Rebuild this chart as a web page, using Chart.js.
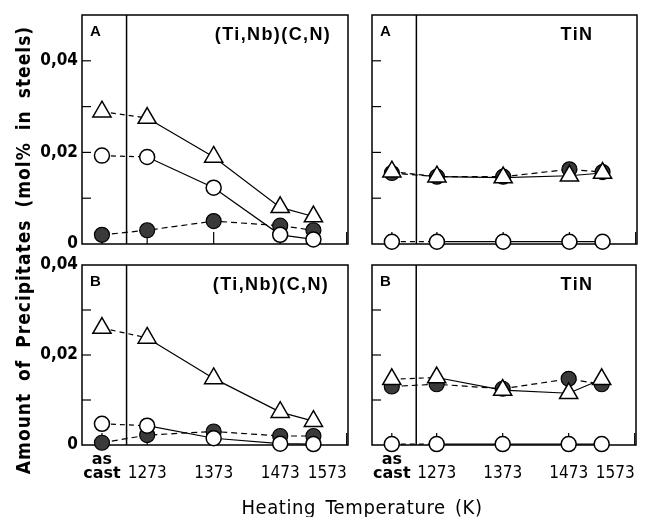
<!DOCTYPE html>
<html>
<head>
<meta charset="utf-8">
<script src="https://cdn.jsdelivr.net/npm/chart.js@4.4.1/dist/chart.umd.min.js"></script>
<style>
  body { margin: 0; background: #fff; }
  #fig { position: relative; width: 647px; height: 517px; overflow: hidden; }
  #fig canvas { position: absolute; left: 0; top: 0; }
  .xtitle {
    position: absolute; left: 162px; top: 496px; width: 400px; text-align: center;
    font: 20px 'Liberation Sans Narrow', 'DejaVu Sans Condensed', sans-serif;
    letter-spacing: 0.6px; word-spacing: 3px; line-height: 22px; white-space: nowrap;
  }
  .ytitle {
    position: absolute; left: -227px; top: 238px; width: 500px; height: 24px; text-align: center;
    font: bold 19px 'Liberation Sans Narrow', 'DejaVu Sans Condensed', sans-serif;
    letter-spacing: 1px; word-spacing: 5px; line-height: 24px; white-space: nowrap;
    transform: rotate(-90deg);
  }
</style>
</head>
<body>
<div id="fig">
  <canvas id="tl" width="700" height="560"></canvas>
  <canvas id="tr" width="700" height="560"></canvas>
  <canvas id="bl" width="700" height="560"></canvas>
  <canvas id="br" width="700" height="560"></canvas>
  <div class="xtitle">Heating Temperature (K)</div>
  <div class="ytitle">Amount of Precipitates (mol% in steels)</div>
</div>
<script>
// "as cast" has no temperature, it sits left of the divider on the same axis
const AS_CAST_X = 1205;
const DIVIDER_X = 1242;
const X_MIN = 1175;
const X_MAX = 1575;

const CONDITIONS = ['as cast', 1273, 1373, 1473, 1523];
// first tick is an unlabelled one at the frame edge so 'inner' alignment only affects 1573
const X_TICKS = [X_MIN, AS_CAST_X, 1273, 1373, 1473, 1573];
const X_TICK_LABELS = ['', ['as', 'cast'], ['', '1273'], ['', '1373'], ['', '1473'], ['', '1573']];
const Y_TICKS_TOP = [0, 0.01, 0.02, 0.03, 0.04, 0.05];
const Y_TICKS_BOTTOM = [0, 0.01, 0.02, 0.03, 0.04];
const Y_TICK_LABELS = ['0', '', '0,02', '', '0,04', ''];

// steel A, (Ti,Nb)(C,N)
const A_TINB_TRIANGLE = [0.0289, 0.0275, 0.019, 0.008, 0.006];
const A_TINB_OPEN = [0.0193, 0.019, 0.0123, 0.002, 0.001];
const A_TINB_FILLED = [0.002, 0.003, 0.005, 0.004, 0.003];

// steel A, TiN
const A_TIN_TRIANGLE = [0.0158, 0.0147, 0.0145, 0.0149, 0.0155];
const A_TIN_OPEN = [0.0005, 0.0005, 0.0005, 0.0005, 0.0005];
const A_TIN_FILLED = [0.0155, 0.0147, 0.0147, 0.0163, 0.0157];

// steel B, (Ti,Nb)(C,N)
const B_TINB_TRIANGLE = [0.026, 0.0238, 0.0148, 0.0073, 0.0053];
const B_TINB_OPEN = [0.0047, 0.0043, 0.0015, 0.0003, 0.0002];
const B_TINB_FILLED = [0.0005, 0.0022, 0.003, 0.002, 0.002];

// steel B, TiN
const B_TIN_TRIANGLE = [0.0146, 0.015, 0.0122, 0.0115, 0.0146];
const B_TIN_OPEN = [0.0002, 0.0002, 0.0002, 0.0002, 0.0002];
const B_TIN_FILLED = [0.013, 0.0135, 0.0125, 0.0147, 0.0135];

const NARROW = "'Liberation Sans Narrow', 'DejaVu Sans Condensed', sans-serif";
const CANVAS_W = 700;
const CANVAS_H = 560;
const Y_AXIS_W = 60;
const X_AXIS_H = 50;

function toPoints(values) {
  return values.map((v, i) => ({
    x: CONDITIONS[i] === 'as cast' ? AS_CAST_X : CONDITIONS[i],
    y: v
  }));
}

// the first segment crosses the as-cast divider and is dashed
const firstDash = (ctx) => (ctx.p0DataIndex === 0 ? [5, 4] : undefined);

function line(ctx, x1, y1, x2, y2) {
  ctx.beginPath();
  ctx.moveTo(x1, y1);
  ctx.lineTo(x2, y2);
  ctx.stroke();
}

const framePlugin = {
  id: 'frame',
  beforeDatasetsDraw(chart) {
    const { ctx, chartArea: a, scales: { x, y } } = chart;
    ctx.save();
    ctx.strokeStyle = '#000';
    ctx.lineWidth = 1.5;
    ctx.strokeRect(a.left, a.top, a.right - a.left, a.bottom - a.top);
    const dx = x.getPixelForValue(DIVIDER_X);
    line(ctx, dx, a.top, dx, a.bottom);
    ctx.lineWidth = 1.2;
    y.ticks.forEach((t) => {
      const py = y.getPixelForValue(t.value);
      if (py > a.top + 1 && py < a.bottom - 1) line(ctx, a.left, py, a.left + 9, py);
    });
    x.ticks.forEach((t) => {
      const px = x.getPixelForValue(t.value);
      if (px > a.left + 1 && px < a.right - 1) line(ctx, px, a.bottom, px, a.bottom - 12);
    });
    ctx.restore();
  },
  afterDraw(chart, args, opts) {
    const { ctx, chartArea: a } = chart;
    ctx.save();
    ctx.fillStyle = '#000';
    ctx.textBaseline = 'middle';
    ctx.font = "bold 15px 'Liberation Sans', sans-serif";
    ctx.textAlign = 'left';
    ctx.fillText(opts.letter, a.left + 8, a.top + 17);
    ctx.font = "bold 18px 'Liberation Sans', sans-serif";
    ctx.letterSpacing = '1.4px';
    ctx.textAlign = 'center';
    ctx.fillText(opts.title, a.right - opts.titleDx, a.top + 20);
    ctx.restore();
  }
};

function panel(id, area, yTicks, showX, showY, letter, title, titleDx, series) {
  const [tri, open, filled] = series;
  return new Chart(document.getElementById(id), {
    type: 'line',
    data: {
      datasets: [
        {
          data: toPoints(tri),
          borderColor: '#000',
          borderWidth: 1.2,
          pointStyle: 'triangle',
          pointRadius: 10.5,
          pointBackgroundColor: '#fff',
          pointBorderColor: '#000',
          pointBorderWidth: 1.5,
          segment: { borderDash: firstDash },
          clip: false
        },
        {
          data: toPoints(open),
          borderColor: '#000',
          borderWidth: 1.2,
          pointStyle: 'circle',
          pointRadius: 7.5,
          pointBackgroundColor: '#fff',
          pointBorderColor: '#000',
          pointBorderWidth: 1.5,
          segment: { borderDash: firstDash },
          clip: false
        },
        {
          data: toPoints(filled),
          borderColor: '#000',
          borderWidth: 1.2,
          borderDash: [6, 4],
          pointStyle: 'circle',
          pointRadius: 7.5,
          pointBackgroundColor: '#3a3a3a',
          pointBorderColor: '#000',
          pointBorderWidth: 1.2,
          clip: false
        }
      ]
    },
    options: {
      responsive: false,
      animation: false,
      events: [],
      layout: {
        autoPadding: false,
        padding: {
          left: area[0] - Y_AXIS_W,
          top: area[1],
          right: CANVAS_W - area[2],
          bottom: CANVAS_H - area[3] - X_AXIS_H
        }
      },
      plugins: {
        legend: { display: false },
        tooltip: { enabled: false },
        frame: { letter, title, titleDx }
      },
      scales: {
        x: {
          type: 'linear',
          min: X_MIN,
          max: X_MAX,
          grid: { display: false, drawTicks: false },
          border: { display: false },
          afterBuildTicks: (s) => { s.ticks = X_TICKS.map((v) => ({ value: v })); },
          afterFit: (s) => { s.height = X_AXIS_H; },
          ticks: {
            display: showX,
            autoSkip: false,
            maxRotation: 0,
            minRotation: 0,
            align: 'inner',
            padding: 8,
            color: '#000',
            callback: (v, i) => X_TICK_LABELS[i],
            font: (ctx) => (ctx.tick && ctx.tick.value === AS_CAST_X
              ? { family: "'DejaVu Sans', sans-serif", size: 16, weight: 'bold', lineHeight: 0.85 }
              : { family: NARROW, size: 17, weight: 'normal', lineHeight: 0.8 })
          }
        },
        y: {
          min: 0,
          max: yTicks[yTicks.length - 1],
          grid: { display: false, drawTicks: false },
          border: { display: false },
          afterBuildTicks: (s) => { s.ticks = yTicks.map((v) => ({ value: v })); },
          afterFit: (s) => { s.width = Y_AXIS_W; },
          ticks: {
            display: showY,
            autoSkip: false,
            padding: 4,
            color: '#000',
            callback: (v, i) => Y_TICK_LABELS[i] || '',
            font: { family: NARROW, size: 17, weight: 'bold' }
          }
        }
      }
    },
    plugins: [framePlugin]
  });
}

panel('tl', [82, 15, 348, 244], Y_TICKS_TOP, false, true, 'A', '(Ti,Nb)(C,N)', 75,
  [A_TINB_TRIANGLE, A_TINB_OPEN, A_TINB_FILLED]);
panel('tr', [372, 15, 637, 244], Y_TICKS_TOP, false, false, 'A', 'TiN', 60,
  [A_TIN_TRIANGLE, A_TIN_OPEN, A_TIN_FILLED]);
panel('bl', [82, 265, 348, 445], Y_TICKS_BOTTOM, true, true, 'B', '(Ti,Nb)(C,N)', 77,
  [B_TINB_TRIANGLE, B_TINB_OPEN, B_TINB_FILLED]);
panel('br', [372, 265, 636, 445], Y_TICKS_BOTTOM, true, false, 'B', 'TiN', 59,
  [B_TIN_TRIANGLE, B_TIN_OPEN, B_TIN_FILLED]);
</script>
</body>
</html>
